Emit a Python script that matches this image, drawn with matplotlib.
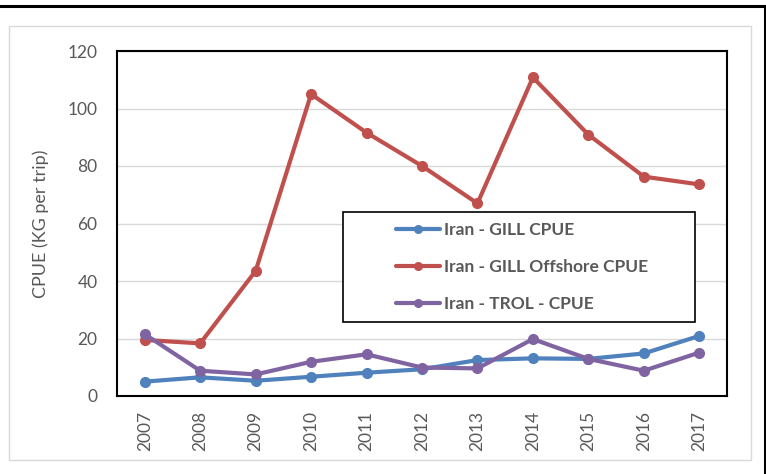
import numpy as np
import matplotlib.pyplot as plt
from matplotlib.patches import Rectangle

# CPUE series, 2007-2017
years = ['2007', '2008', '2009', '2010', '2011', '2012',
         '2013', '2014', '2015', '2016', '2017']
gill = [5.0, 6.5, 5.3, 6.7, 8.1, 9.3, 12.5, 13.1, 12.9, 14.8, 20.9]
gill_offshore = [19.5, 18.3, 43.5, 105.0, 91.6, 80.0, 67.0, 110.8, 90.9, 76.3, 73.6]
trol = [21.5, 8.8, 7.5, 11.9, 14.5, 9.9, 9.6, 19.8, 12.9, 8.8, 15.1]

labels = ['Iran - GILL CPUE', 'Iran - GILL Offshore CPUE', 'Iran - TROL - CPUE']
colors = ['#4F81BD', '#C0504D', '#8064A2']

plt.rcParams['font.family'] = ['Lato', 'DejaVu Sans']

W, H = 766, 474
fig = plt.figure(figsize=(W / 100, H / 100), dpi=100)

# outer frame (top and right edges visible) and chart area border
fig.add_artist(plt.Line2D([0, 765.5 / W], [1 - 6 / H, 1 - 6 / H],
                          transform=fig.transFigure, color='black', lw=2.2))
fig.add_artist(plt.Line2D([765 / W, 765 / W], [0, 1 - 6 / H],
                          transform=fig.transFigure, color='black', lw=2.2))
fig.add_artist(Rectangle((9 / W, 1 - 460 / H), (751 - 9) / W, (460 - 26) / H,
                         transform=fig.transFigure, fill=False,
                         edgecolor='#D9D9D9', lw=1.0))

ax = fig.add_axes([117 / W, 1 - 396 / H, (727 - 117) / W, (396 - 51) / H])
x = np.arange(len(years))
for vals, lab, c in zip([gill, gill_offshore, trol], labels, colors):
    ax.plot(x, vals, color=c, lw=3.0, marker='o', markersize=7,
            label=lab, solid_capstyle='round', zorder=3)

ax.set_xlim(-0.5, len(years) - 0.5)
ax.set_ylim(0, 120)
ax.set_yticks(range(0, 121, 20))
ax.set_xticks(x)
ax.set_xticklabels(years, rotation=90)
ax.tick_params(axis='both', length=0, labelsize=12.5, colors='#595959')
ax.tick_params(axis='x', pad=11)
ax.tick_params(axis='y', pad=14)
ax.grid(axis='y', color='#D9D9D9', lw=1.0, zorder=0)
for s in ax.spines.values():
    s.set_color('black')
    s.set_linewidth(1.5)
ax.set_ylabel('CPUE (KG per trip)', fontsize=13, color='#595959')
ax.yaxis.set_label_coords((49 - 117) / 610, 0.5)

# legend box
bx0, by0 = (343 - 117) / 610, (396 - 322) / 345
bw, bh = (695 - 343) / 610, (322 - 212) / 345
ax.add_patch(Rectangle((bx0, by0), bw, bh, transform=ax.transAxes,
                       facecolor='white', edgecolor='black', lw=1.2, zorder=5))
leg = ax.legend(loc='center', bbox_to_anchor=(bx0 + bw / 2 + 0.005, by0 + bh / 2),
                frameon=False, labelspacing=1.22, handlelength=2.55,
                handletextpad=0.25, prop={'size': 12.5, 'weight': 'bold'},
                borderaxespad=0)
leg.set_zorder(6)
for t in leg.get_texts():
    t.set_color('#595959')
for h in leg.legend_handles:
    h.set_markersize(5.5)
    h.set_linewidth(3.0)

fig.savefig('out.png', dpi=100)
